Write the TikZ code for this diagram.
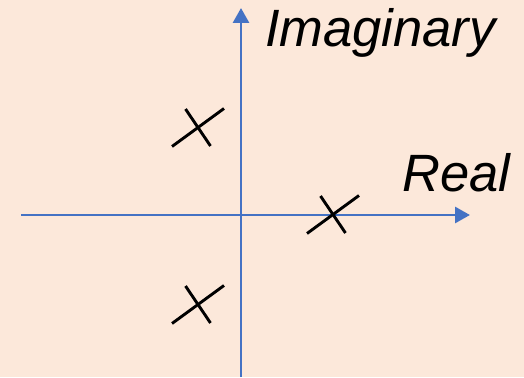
\documentclass[tikz,border=0pt]{standalone}
\usepackage{fontspec}
\setmainfont{Liberation Sans}
\usetikzlibrary{arrows.meta}
\begin{document}
\begin{tikzpicture}[x=1pt,y=-1pt]
        % Colours (axis blue and page background)
        \definecolor{axisblue}{RGB}{68,114,196}
        \definecolor{paper}{RGB}{252,232,218}
        \tikzset{
            axisline/.style={axisblue, line width=2.9pt, -{Triangle[length=15pt,width=16pt]}},
            polemark/.style={black, line width=2.9pt},
            axislabel/.style={inner sep=0pt, anchor=base west, font=\fontsize{52.5}{62}\selectfont\itshape}
        }
        
        % Page
        \fill[paper] (0,0) rectangle (524,377);
        \useasboundingbox (0,0) rectangle (524,377);
        
        % Axes
        \coordinate (re0) at (21,215);
        \coordinate (re1) at (470,215);
        \coordinate (im0) at (241,377);
        \coordinate (im1) at (241,8);
        \draw[axisline] (re0) -- (re1);
        \draw[axisline] (im0) -- (im1);
        
        % Axis labels
        \node[axislabel] (imlabel) at (265,47) {Imaginary};
        \node[axislabel] (relabel) at (402,191) {Real};
        
        % Poles
        \foreach \name/\px/\py in {poleA/198/127.5, poleB/198/304.5, poleC/333/214.5} {
            \coordinate (\name) at (\px,\py);
            \draw[polemark] ([shift={(-26,19)}]\name) -- ([shift={(26,-19)}]\name);
            \draw[polemark] ([shift={(-12.5,-18.5)}]\name) -- ([shift={(12.5,18.5)}]\name);
        }
\end{tikzpicture}
\end{document}
